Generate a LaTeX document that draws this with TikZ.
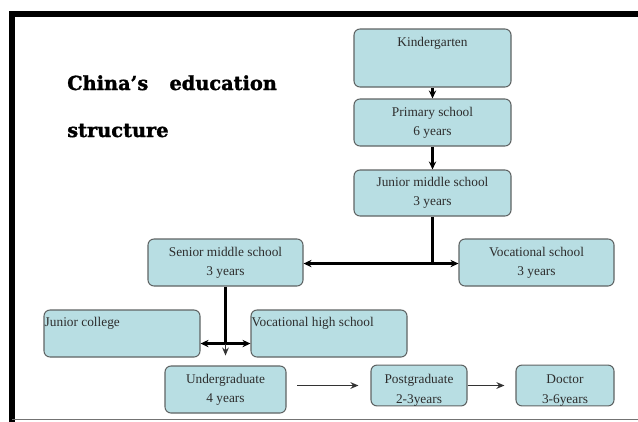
\documentclass[tikz,border=0pt]{standalone}
\usepackage{fontspec}
\setmainfont{Liberation Serif}
\newfontfamily\titlefont[FakeBold=1.6]{DejaVu Serif Bold}
\usetikzlibrary{arrows.meta,calc}
\definecolor{boxfill}{RGB}{184,222,227}
\definecolor{boxline}{RGB}{95,100,100}
\definecolor{txt}{RGB}{45,45,45}
\newcommand{\lowerline}{\rule{0pt}{14pt}}
\tikzset{
  box/.style 2 args={draw=boxline, fill=boxfill, line width=0.8pt,
    rounded corners=4.5pt, minimum width=#1*0.75pt, minimum height=#2*0.75pt,
    inner sep=0pt, align=center, font=\fontsize{10}{14.5}\selectfont, text=txt},
  boxtext/.style={font=\fontsize{10}{14.5}\selectfont, text=txt, inner sep=0pt},
  thick arrow/.style={line width=2.3pt, -{Stealth[length=6pt,width=5.5pt]}},
  thin arrow/.style={line width=0.9pt, draw=black!80, -{Stealth[length=6pt,width=5pt]}},
  title/.style={font=\titlefont\fontsize{14.5}{14.5}\selectfont, anchor=base west, inner sep=0pt}
}
\begin{document}
\begin{tikzpicture}[x=0.75pt,y=-0.75pt]
\useasboundingbox (0,0) rectangle (638,421);
% frame
\draw[line width=3.8pt, line cap=rect] (12,421) -- (12,14) -- (640,14);
\draw[line width=1.2pt, draw=black!55] (12,419.5) -- (640,419.5);

% title
\node[title] (t1) at (67,90) {China’s\hspace{1.1em}education};
\node[title] (t2) at (67,137) {structure};

% boxes
\node[box={157}{58}] (k) at (432.5,58) {};
\node[boxtext, anchor=north] (kt) at ($(k.north)+(0,9)$) {Kindergarten};
\node[box={157}{47}] (p) at (432.5,122.5) {Primary school\\6 years};
\node[box={157}{46}] (j) at (432.5,193) {Junior middle school\\3 years};
\node[box={155}{47}] (s) at (225.5,262.5) {Senior middle school\\3 years};
\node[box={155}{47}] (v) at (536.5,262.5) {Vocational school\\3 years};
\node[box={156}{47}] (jc) at (122,333.5) {};
\node[boxtext, anchor=north west] (jct) at ($(jc.north west)+(1,8)$) {Junior college};
\node[box={156}{47}] (vh) at (329,333.5) {};
\node[boxtext, anchor=north west] (vht) at ($(vh.north west)+(1,8)$) {Vocational high school};
\node[box={121}{47}] (u) at (225.5,389.5) {Undergraduate\\4 years};
\node[box={96}{37}] (pg) at (419,385.5) {\lowerline Postgraduate\\2-3years};
\node[box={98}{37}] (d) at (565,385.5) {\lowerline Doctor\\3-6years};

% connectors
\draw[thick arrow] (k) -- (p);
\draw[thick arrow] (p) -- (j);
\coordinate (jb) at ($(j.south)+(0,47)$);
\draw[line width=2.3pt] (j.south) -- (jb);
\draw[thick arrow] (jb) -- (jb -| s.east);
\draw[thick arrow] (jb) -- (jb -| v.west);
\coordinate (sb) at ($(s.south)+(0,57)$);
\draw[line width=2.3pt] (s.south) -- (sb);
\draw[thick arrow] (sb) -- (sb -| jc.east);
\draw[thick arrow] (sb) -- (sb -| vh.west);
\draw[thin arrow] (sb) -- ($(sb)+(0,12)$);
\draw[thin arrow] ($(pg.west |- pg.center)+(-73,0)$) -- ($(pg.west)+(-12,0)$);
\draw[thin arrow] (pg.east) -- ($(d.west)+(-11,0)$);
\end{tikzpicture}
\end{document}
